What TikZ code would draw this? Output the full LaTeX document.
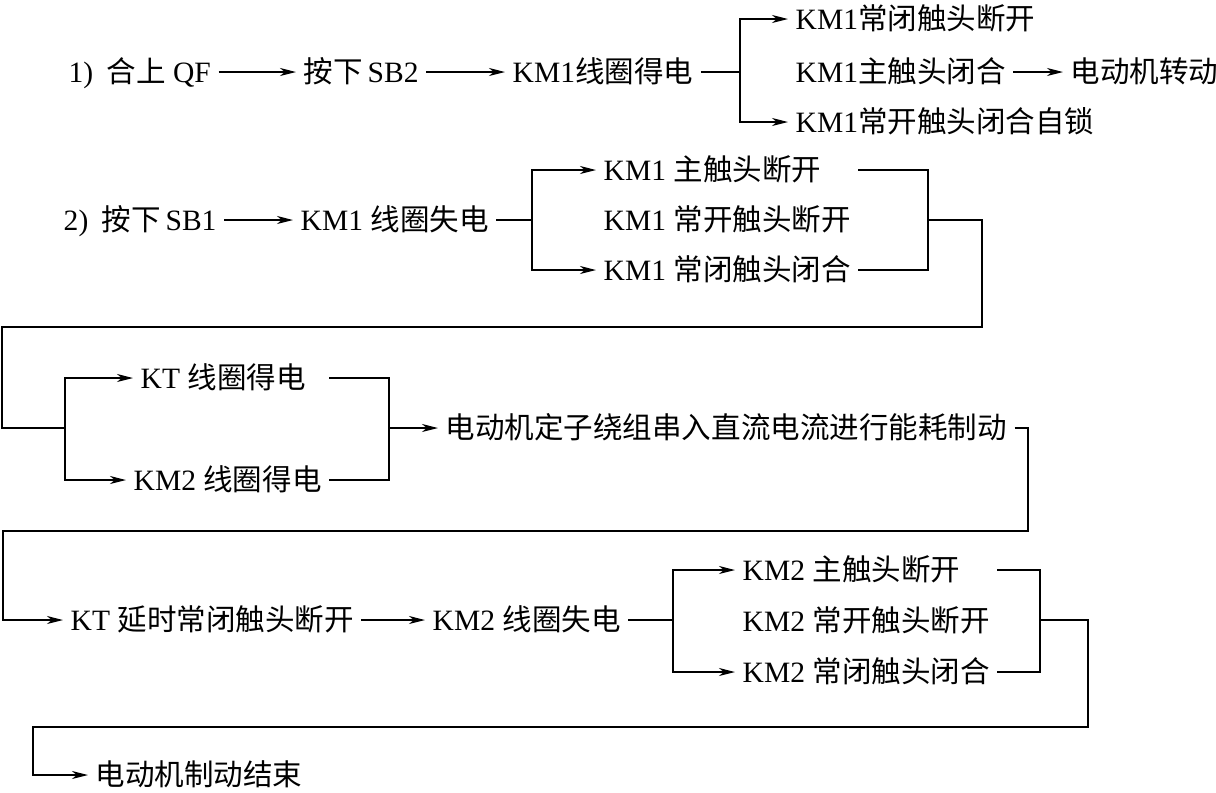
\documentclass[tikz,border=0pt]{standalone}
\usepackage{fontspec}
\setmainfont{Liberation Serif}
\newfontfamily\zhfont{Noto Sans CJK SC}
\newcommand{\zh}[1]{{\zhfont #1}}
\usetikzlibrary{arrows.meta, calc}

\begin{document}
\begin{tikzpicture}[x=0.025cm, y=-0.025cm, line width=1pt,
    txt/.style={anchor=west, inner xsep=5pt, inner ysep=0pt, text height=19pt, text depth=4pt, font=\fontsize{21}{25}\selectfont},
    arr/.style={-{Stealth[length=4mm, width=2mm, inset=1.2mm]}}]
    \useasboundingbox (0,0) rectangle (1216,792);

    % Step 1: start
    \node[txt] (qf) at (61,72) {1)\hspace{0.45em}\zh{合上} QF};
    \node[txt] (sb2) at (296,72) {\zh{按下}\,SB2};
    \node[txt] (km1on) at (505,72) {KM1\zh{线圈得电}};
    \coordinate (j1) at (740,72);
    \node[txt] (nc1) at (788,19) {KM1\zh{常闭触头断开}};
    \node[txt] (main1) at (788,72) {KM1\zh{主触头闭合}};
    \node[txt] (run) at (1063,72) {\zh{电动机转动}};
    \node[txt] (no1) at (788,122) {KM1\zh{常开触头闭合自锁}};

    \draw[arr] (qf.east) -- (sb2.west);
    \draw[arr] (sb2.east) -- (km1on.west);
    \draw (km1on.east) -- (j1);
    \draw[arr] (j1) |- (nc1.west);
    \draw[arr] (j1) |- (no1.west);
    \draw[arr] (main1.east) -- (run.west);

    % Step 2: stop
    \node[txt] (sb1) at (56,220) {2)\hspace{0.45em}\zh{按下}\,SB1};
    \node[txt] (km1off) at (293,220) {KM1 \zh{线圈失电}};
    \coordinate (j2) at (532,220);
    \node[txt] (a1) at (596,170) {KM1 \zh{主触头断开}};
    \node[txt] (a2) at (596,220) {KM1 \zh{常开触头断开}};
    \node[txt] (a3) at (596,270) {KM1 \zh{常闭触头闭合}};
    \coordinate (r2) at (928,220);
    \coordinate (t1) at (982,327);
    \coordinate (t2) at (2,327);

    \draw[arr] (sb1.east) -- (km1off.west);
    \draw (km1off.east) -- (j2);
    \draw[arr] (j2) |- (a1.west);
    \draw[arr] (j2) |- (a3.west);
    \draw (a1.east -| a2.east) -| (r2);
    \draw (a3.east -| a2.east) -| (r2);

    % Braking
    \coordinate (j3) at (65,428);
    \node[txt] (kt) at (133,378) {KT \zh{线圈得电}};
    \node[txt] (km2on) at (126,480) {KM2 \zh{线圈得电}};
    \coordinate (r3) at (389,428);
    \node[txt] (brake) at (438,428) {\zh{电动机定子绕组串入直流电流进行能耗制动}};
    \coordinate (t3) at (1028,531);
    \coordinate (t4) at (3,531);

    \draw (r2) -| (t1) -- (t2) |- (j3);
    \draw[arr] (j3) |- (kt.west);
    \draw[arr] (j3) |- (km2on.west);
    \draw (kt.east -| km2on.east) -| (r3);
    \draw (km2on.east) -| (r3);
    \draw[arr] (r3) -- (brake.west);

    % Delay and end
    \node[txt] (kto) at (63,620) {KT \zh{延时常闭触头断开}};
    \node[txt] (km2off) at (425,620) {KM2 \zh{线圈失电}};
    \coordinate (j5) at (673,620);
    \node[txt] (b1) at (735,570) {KM2 \zh{主触头断开}};
    \node[txt] (b2) at (735,621) {KM2 \zh{常开触头断开}};
    \node[txt] (b3) at (735,672) {KM2 \zh{常闭触头闭合}};
    \coordinate (r5) at (1040,620);
    \coordinate (t5) at (1088,727);
    \coordinate (t6) at (33,727);
    \node[txt] (stop) at (88,775) {\zh{电动机制动结束}};

    \draw[arr] (brake.east) -| (t3) -- (t4) |- (kto.west);
    \draw[arr] (kto.east) -- (km2off.west);
    \draw (km2off.east) -- (j5);
    \draw[arr] (j5) |- (b1.west);
    \draw[arr] (j5) |- (b3.west);
    \draw (b1.east -| b3.east) -| (r5);
    \draw (b3.east) -| (r5);
    \draw[arr] (r5) -| (t5) -- (t6) |- (stop.west);
\end{tikzpicture}
\end{document}
